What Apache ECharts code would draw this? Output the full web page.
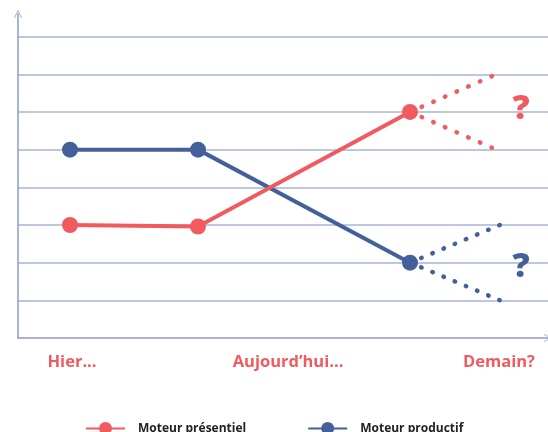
<!DOCTYPE html>
<html><head><meta charset="utf-8">
<script src="https://cdn.jsdelivr.net/npm/echarts@6/dist/echarts.min.js"></script>
<style>html,body{margin:0;padding:0;background:#fff}#c{width:548px;height:432px}</style>
</head><body><div id="c"></div>
<script>
// x positions (schematic timeline units) and levels
const periodLabels = ['Hier...', 'Aujourd\u2019hui...', 'Demain?'];
const periodPositions = [54, 270, 481];
const xPoints = [52, 180, 392];
const presentielValues = [3, 2.96, 6];
const productifValues = [5, 5, 2];
const presentielFutureX = 474;
const presentielFutureHigh = 6.95;
const presentielFutureLow = 5.05;
const productifFutureX = 482;
const productifFutureHigh = 3;
const productifFutureLow = 1;
const questionX = 503;
const presentielQuestionY = 6.08;
const productifQuestionY = 1.88;

const RED = '#F15A5F', BLUE = '#44609B', GRID = '#A9B5D8', AXIS = '#8C9CC9';
const chevron = 'path://M0,10 L5,0 L10,10 L9,10 L5,2 L1,10 Z';

const pair = (xs, ys) => xs.map((x, i) => [x, ys[i]]);
const dotted = (name, color, gap, x2, y2, x1, y1) => ({
  name, type: 'line', data: [[x1, y1], [x2, y2]], symbol: 'none', silent: true,
  lineStyle: { color, width: 4.5, type: [0.5, gap], cap: 'round' }, z: 1
});

const chart = echarts.init(document.getElementById('c'));
chart.setOption({
  animation: false,
  grid: { left: 18, right: 0, top: 14, bottom: 94 },
  legend: {
    data: ['Moteur présentiel', 'Moteur productif'],
    top: 417, left: 80, itemWidth: 39, itemHeight: 16, itemGap: 61,
    textStyle: { fontFamily: 'Open Sans', fontWeight: 'bold', fontSize: 12, color: '#222', padding: [0, 0, 0, 8] }
  },
  xAxis: {
    type: 'value', min: 0, max: 530,
    axisLine: { show: true, lineStyle: { color: AXIS, width: 1.5 }, symbol: ['none', chevron], symbolSize: [10, 8] },
    axisTick: { show: false },
    splitLine: { show: false },
    axisLabel: {
      customValues: periodPositions,
      formatter: v => periodLabels[periodPositions.indexOf(v)] || '',
      color: RED, fontFamily: 'Open Sans', fontWeight: 'bold', fontSize: 16.5, margin: 16
    }
  },
  yAxis: {
    type: 'value', min: 0, max: 8.6, interval: 1,
    axisLine: { show: true, lineStyle: { color: AXIS, width: 1.5 }, symbol: ['none', chevron], symbolSize: [10, 8] },
    axisTick: { show: false }, axisLabel: { show: false },
    splitLine: { show: true, showMinLine: false, showMaxLine: false, lineStyle: { color: GRID, width: 1.5 } }
  },
  series: [
    dotted('pf-up', BLUE, 11.6, productifFutureX, productifFutureHigh, xPoints[2], productifValues[2]),
    dotted('pf-down', BLUE, 11.6, productifFutureX, productifFutureLow, xPoints[2], productifValues[2]),
    dotted('pr-up', RED, 12.2, presentielFutureX, presentielFutureHigh, xPoints[2], presentielValues[2]),
    dotted('pr-down', RED, 12.2, presentielFutureX, presentielFutureLow, xPoints[2], presentielValues[2]),
    {
      name: 'Moteur productif', type: 'line', data: pair(xPoints, productifValues),
      symbol: 'circle', symbolSize: 16, itemStyle: { color: BLUE },
      lineStyle: { color: BLUE, width: 4 }, z: 3
    },
    {
      name: 'Moteur présentiel', type: 'line', data: pair(xPoints, presentielValues),
      symbol: 'circle', symbolSize: 16, itemStyle: { color: RED },
      lineStyle: { color: RED, width: 4 }, z: 4
    },
    {
      type: 'scatter', symbolSize: 0, silent: true, itemStyle: { opacity: 1 },
      data: [
        { value: [questionX, presentielQuestionY], label: { color: RED } },
        { value: [questionX, productifQuestionY], label: { color: BLUE } }
      ],
      label: { show: true, position: 'inside', formatter: '?', opacity: 1, fontFamily: 'Open Sans', fontWeight: 900, fontSize: 34 }
    }
  ]
});
</script></body></html>
